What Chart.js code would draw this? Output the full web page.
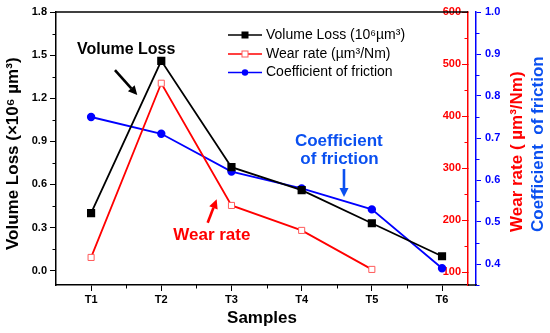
<!DOCTYPE html>
<html>
<head>
<meta charset="utf-8">
<script src="https://cdn.jsdelivr.net/npm/chart.js@4.4.1/dist/chart.umd.min.js"></script>
<style>
  html, body { margin: 0; padding: 0; background: #fff; }
  #wrap { width: 550px; height: 333px; }
</style>
</head>
<body>
<div id="wrap"><canvas id="c" width="550" height="333"></canvas></div>
<script>
// ---- data ----
const samples = ['T1', 'T2', 'T3', 'T4', 'T5', 'T6'];
const volumeLoss = [0.40, 1.46, 0.72, 0.56, 0.33, 0.10];      // x10^6 µm³
const wearRate = [128, 463, 228, 180, 105, null];              // µm³/Nm
const friction = [0.75, 0.71, 0.62, 0.58, 0.53, 0.39];         // COF
const volumeTicks = [0, 0.3, 0.6, 0.9, 1.2, 1.5, 1.8];
const wearTicks = [100, 200, 300, 400, 500, 600];
const frictionTicks = [0.4, 0.5, 0.6, 0.7, 0.8, 0.9, 1.0];

const FONT = '"Liberation Sans", Arial, sans-serif';
Chart.defaults.font.family = FONT;

const toPts = arr => arr.map((v, i) => ({ x: i + 1, y: v }));

// annotation positions in data space (x scale / left y scale)
const notes = [
  { text: 'Volume Loss', x: 1.50, y: 1.535, color: '#000', size: 16 },
  { text: 'Wear rate', x: 2.72, y: 0.247, color: '#ff0000', size: 17 },
  { text: 'Coefficient', x: 4.53, y: 0.902, color: '#0a50f0', size: 17 },
  { text: 'of friction', x: 4.54, y: 0.777, color: '#0a50f0', size: 17 }
];
const arrows = [
  { x1: 1.34, y1: 1.396, x2: 1.658, y2: 1.222, color: '#000' },
  { x1: 2.661, y1: 0.333, x2: 2.789, y2: 0.496, color: '#ff0000' },
  { x1: 4.603, y1: 0.707, x2: 4.603, y2: 0.512, color: '#0a50f0' }
];

function mids(arr) {
  const out = [];
  for (let i = 0; i < arr.length - 1; i++) out.push((arr[i] + arr[i + 1]) / 2);
  return out;
}

function drawArrow(ctx, x1, y1, x2, y2, color) {
  const ang = Math.atan2(y2 - y1, x2 - x1);
  const hl = 9, hw = 4.5;
  const bx = x2 - hl * Math.cos(ang), by = y2 - hl * Math.sin(ang);
  ctx.strokeStyle = color; ctx.fillStyle = color; ctx.lineWidth = 2.6;
  ctx.beginPath(); ctx.moveTo(x1, y1); ctx.lineTo(bx, by); ctx.stroke();
  ctx.beginPath();
  ctx.moveTo(x2, y2);
  ctx.lineTo(bx + hw * Math.sin(ang), by - hw * Math.cos(ang));
  ctx.lineTo(bx - hw * Math.sin(ang), by + hw * Math.cos(ang));
  ctx.closePath(); ctx.fill();
}

const deco = {
  id: 'deco',
  afterDraw(chart) {
    const { ctx, chartArea: a, scales } = chart;
    const { x, y, y1, y2 } = scales;
    ctx.save();
    // frame top + x axis extension to the blue axis
    ctx.strokeStyle = '#000'; ctx.lineWidth = 1.5;
    ctx.beginPath(); ctx.moveTo(a.left, a.top); ctx.lineTo(a.right, a.top); ctx.stroke();
    ctx.beginPath(); ctx.moveTo(a.right, a.bottom); ctx.lineTo(y2.left + 1, a.bottom); ctx.stroke();

    // minor ticks
    ctx.lineWidth = 1;
    ctx.strokeStyle = '#000';
    mids(volumeTicks).forEach(v => {
      const p = Math.round(y.getPixelForValue(v)) + 0.5;
      ctx.beginPath(); ctx.moveTo(a.left, p); ctx.lineTo(a.left - 3.5, p); ctx.stroke();
    });
    mids([1, 2, 3, 4, 5, 6]).forEach(v => {
      const p = Math.round(x.getPixelForValue(v)) + 0.5;
      ctx.beginPath(); ctx.moveTo(p, a.bottom); ctx.lineTo(p, a.bottom + 3.5); ctx.stroke();
    });
    ctx.strokeStyle = '#ff0000';
    mids(wearTicks).forEach(v => {
      const p = Math.round(y1.getPixelForValue(v)) + 0.5;
      ctx.beginPath(); ctx.moveTo(a.right, p); ctx.lineTo(a.right - 3.5, p); ctx.stroke();
    });
    ctx.strokeStyle = '#0000ff';
    [0.35].concat(mids(frictionTicks)).forEach(v => {
      const p = Math.round(y2.getPixelForValue(v)) + 0.5;
      ctx.beginPath(); ctx.moveTo(y2.left, p); ctx.lineTo(y2.left + 3.5, p); ctx.stroke();
    });

    // rotated axis titles
    const vtitle = (text, px, py, color) => {
      ctx.save();
      ctx.translate(px, py);
      ctx.rotate(-Math.PI / 2);
      ctx.font = 'bold 17px ' + FONT;
      ctx.fillStyle = color;
      ctx.textAlign = 'left';
      ctx.textBaseline = 'middle';
      ctx.fillText(text, 0, 0);
      ctx.restore();
    };
    vtitle('Volume Loss (×10⁶ µm³)', 13, 250, '#000');
    vtitle('Wear rate ( µm³/Nm)', 517, 232, '#ff0000');
    vtitle('Coefficient  of friction', 538, 232, '#0a50f0');

    // annotations
    notes.forEach(n => {
      ctx.font = 'bold ' + n.size + 'px ' + FONT;
      ctx.fillStyle = n.color;
      ctx.textAlign = 'center';
      ctx.textBaseline = 'middle';
      ctx.fillText(n.text, x.getPixelForValue(n.x), y.getPixelForValue(n.y));
    });
    arrows.forEach(r => drawArrow(ctx,
      x.getPixelForValue(r.x1), y.getPixelForValue(r.y1),
      x.getPixelForValue(r.x2), y.getPixelForValue(r.y2), r.color));

    // legend
    const lx0 = 228, lx1 = 262, ly = [35, 54, 72.5];
    chart.data.datasets.forEach((ds, i) => {
      const yy = ly[i];
      ctx.strokeStyle = ds.borderColor; ctx.lineWidth = 1.5;
      ctx.beginPath(); ctx.moveTo(lx0, yy); ctx.lineTo(lx1, yy); ctx.stroke();
      const cx = (lx0 + lx1) / 2;
      ctx.fillStyle = ds.pointBackgroundColor;
      ctx.strokeStyle = ds.pointBorderColor;
      ctx.lineWidth = 1;
      if (ds.pointStyle === 'rect') {
        ctx.fillRect(cx - 3, yy - 3, 6, 6);
        ctx.strokeRect(cx - 3, yy - 3, 6, 6);
      } else {
        ctx.beginPath(); ctx.arc(cx, yy, 3.2, 0, Math.PI * 2); ctx.fill();
      }
      ctx.font = '14px ' + FONT;
      ctx.fillStyle = '#000';
      ctx.textAlign = 'left';
      ctx.textBaseline = 'middle';
      ctx.fillText(ds.label, lx1 + 4, yy);
    });
    ctx.restore();
  }
};

new Chart(document.getElementById('c'), {
  type: 'line',
  data: {
    datasets: [
      {
        label: 'Volume Loss (10⁶µm³)', data: toPts(volumeLoss), yAxisID: 'y',
        borderColor: '#000000', backgroundColor: '#000000',
        pointBackgroundColor: '#000000', pointBorderColor: '#000000',
        pointStyle: 'rect', pointRadius: 4.5, borderWidth: 1.8, tension: 0
      },
      {
        label: 'Wear rate (µm³/Nm)', data: toPts(wearRate), yAxisID: 'y1',
        borderColor: '#ff0000', backgroundColor: '#ffffff',
        pointBackgroundColor: '#ffffff', pointBorderColor: '#ff5a5a',
        pointStyle: 'rect', pointRadius: 4.3, pointBorderWidth: 1, borderWidth: 1.8, tension: 0
      },
      {
        label: 'Coefficient of friction', data: toPts(friction), yAxisID: 'y2',
        borderColor: '#0000ff', backgroundColor: '#0000ff',
        pointBackgroundColor: '#0000ff', pointBorderColor: '#0000ff',
        pointStyle: 'circle', pointRadius: 3.3, borderWidth: 1.8, tension: 0
      }
    ]
  },
  options: {
    responsive: false,
    animation: false,
    layout: { padding: { top: 12, left: 0, right: 0, bottom: 0 } },
    plugins: { legend: { display: false }, tooltip: { enabled: false } },
    scales: {
      x: {
        type: 'linear', position: 'bottom', min: 0.5, max: 6.37,
        afterBuildTicks: s => { s.ticks = samples.map((_, i) => ({ value: i + 1 })); },
        afterFit: s => { s.height = 48; },
        ticks: {
          callback: v => samples[v - 1] || '',
          font: { size: 11, weight: 'bold' }, color: '#000', padding: 2, maxRotation: 0
        },
        grid: { drawOnChartArea: false, tickLength: 6, color: '#000', tickWidth: 1 },
        border: { color: '#000', width: 1.5 },
        title: {
          display: true, text: 'Samples', color: '#000',
          font: { size: 17, weight: 'bold' }, padding: { top: 0, bottom: 4 }
        }
      },
      y: {
        position: 'left', min: -0.1, max: 1.8,
        afterBuildTicks: s => { s.ticks = volumeTicks.map(v => ({ value: v })); },
        afterFit: s => { s.width = 56; },
        ticks: {
          callback: v => Number(v).toFixed(1),
          font: { size: 11, weight: 'bold' }, color: '#000', padding: 3
        },
        grid: { drawOnChartArea: false, tickLength: 6, color: '#000', tickWidth: 1 },
        border: { color: '#000', width: 1.5 }
      },
      y1: {
        position: 'right', weight: 0, min: 75, max: 600,
        afterBuildTicks: s => { s.ticks = wearTicks.map(v => ({ value: v })); },
        afterFit: s => { s.width = 8; },
        ticks: {
          mirror: true, callback: v => String(v),
          font: { size: 11, weight: 'bold' }, color: '#ff0000', padding: -7
        },
        grid: { drawOnChartArea: false, tickLength: -6, color: '#ff0000', tickWidth: 1 },
        border: { color: '#ff0000', width: 1.5 }
      },
      y2: {
        position: 'right', weight: 1, min: 0.35, max: 1.0,
        afterBuildTicks: s => { s.ticks = frictionTicks.map(v => ({ value: v })); },
        afterFit: s => { s.width = 74; },
        ticks: {
          callback: v => Number(v).toFixed(1),
          font: { size: 11, weight: 'bold' }, color: '#0000ff', padding: 4
        },
        grid: { drawOnChartArea: false, tickLength: 5, color: '#0000ff', tickWidth: 1 },
        border: { color: '#0000ff', width: 1.5 }
      }
    }
  },
  plugins: [deco]
});
</script>
</body>
</html>
